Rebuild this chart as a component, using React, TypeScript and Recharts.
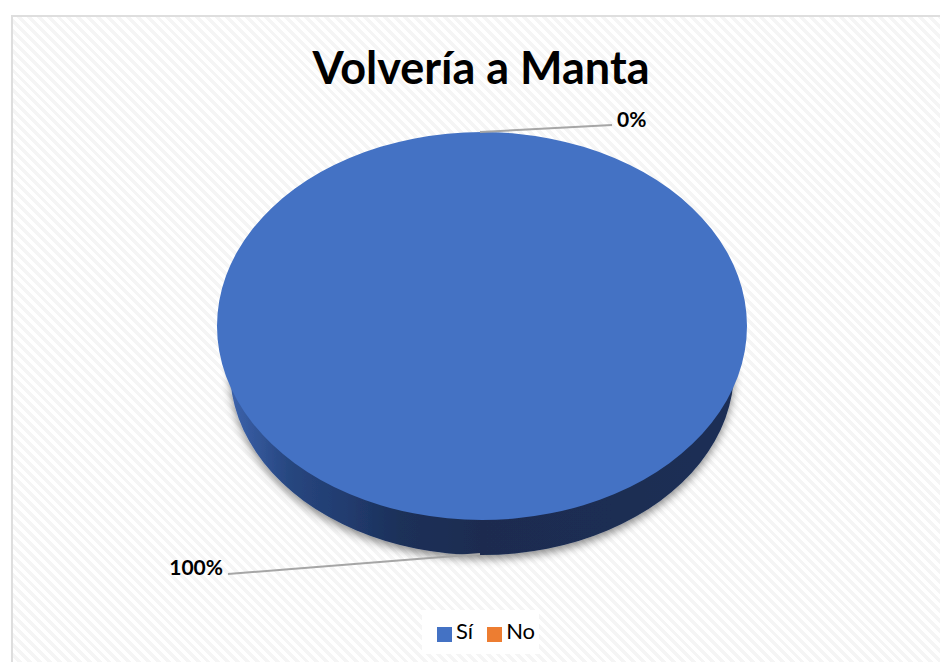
import React from 'react';
import { PieChart, Pie, Sector, Cell, Legend } from 'recharts';

const categories: string[] = ['Sí', 'No'];
const values: number[] = [100, 0];
const topColors: string[] = ['#4472C4', '#ED7D31'];

const tableData = categories.map((name, i) => ({ name, value: values[i] }));

const CX = 482;
const CY = 326;
const RADIUS = 265;
const SQUASH = 0.732;
const DEPTH = 35;
// lower rim is a little smaller than the top face (perspective)
const SIDE_RADIUS = 252;
const SIDE_CY = 370.5;

// the pie is tilted, so every sector is squashed around the centre
const TiltedSector = (props: any) => {
  const { cx, cy } = props;
  return (
    <g transform={`translate(${cx} ${cy}) scale(1 ${SQUASH}) translate(${-cx} ${-cy})`}>
      <Sector {...props} stroke="none" />
    </g>
  );
};

const renderLabel = (props: any) => {
  const { cx, cy, outerRadius, midAngle, percent } = props;
  const rad = (midAngle * Math.PI) / 180;
  const bottom = Math.sin(rad) < 0;
  const ax = cx + outerRadius * Math.cos(rad) - 2;
  const ay = cy - outerRadius * SQUASH * Math.sin(rad) + (bottom ? DEPTH - 1 : 0);
  const ex = bottom ? ax - 252 : ax + 132;
  const ey = bottom ? ay + 20 : ay - 7;
  return (
    <g>
      <line x1={ax} y1={ay} x2={ex} y2={ey} stroke="#a6a6a6" strokeWidth={2} />
      <text
        x={bottom ? ex - 5 : ex + 5}
        y={ey - 7}
        textAnchor={bottom ? 'end' : 'start'}
        dominantBaseline="central"
        fontFamily="Lato"
        fontWeight={700}
        fontSize={21}
        fill="#000"
      >
        {`${Math.round(percent * 100)}%`}
      </text>
    </g>
  );
};

const App: React.FC = () => {
  return (
    <div style={{ position: 'absolute', left: 0, top: 0, width: 940, height: 662, background: '#fff', overflow: 'hidden' }}>
      {/* Hatched chart area, it runs off the picture on the right and bottom */}
      <div
        style={{
          position: 'absolute',
          left: 11,
          top: 15,
          right: 0,
          bottom: 0,
          borderTop: '2px solid #dedede',
          borderLeft: '2px solid #dedede',
          background: 'repeating-linear-gradient(45deg, #ffffff 0px, #ffffff 3.5px, #f5f5f5 3.5px, #f5f5f5 7px)',
        }}
      />
      <div style={{ position: 'absolute', left: 0, top: 0 }}>
        <PieChart width={940} height={662} margin={{ top: 0, right: 0, bottom: 0, left: 0 }}>
          <defs>
            <linearGradient id="sideFill" gradientUnits="userSpaceOnUse" x1={217} y1={0} x2={747} y2={0}>
              <stop offset="3.4%" stopColor="#3a60a8" />
              <stop offset="13.8%" stopColor="#27467f" />
              <stop offset="25%" stopColor="#213b6e" />
              <stop offset="34.5%" stopColor="#1c3059" />
              <stop offset="50%" stopColor="#1a2c50" />
              <stop offset="100%" stopColor="#1a2e55" />
            </linearGradient>
            <filter id="sideShadow" x="-10%" y="-10%" width="120%" height="125%">
              <feDropShadow dx={0} dy={4} stdDeviation={4} floodColor="#000" floodOpacity={0.45} />
            </filter>
          </defs>
          <text x={481} y={67} textAnchor="middle" dominantBaseline="central" fontFamily="Lato" fontWeight={700} fontSize={45} fill="#000">
            Volvería a Manta
          </text>
          {/* side wall first, top face goes over it */}
          <Pie
            data={tableData}
            dataKey="value"
            nameKey="name"
            cx={CX}
            cy={SIDE_CY}
            innerRadius={0}
            outerRadius={SIDE_RADIUS}
            startAngle={90}
            endAngle={-270}
            stroke="none"
            legendType="none"
            label={false}
            labelLine={false}
            isAnimationActive={false}
            shape={(p: any) => (
              <g filter="url(#sideShadow)">
                <TiltedSector {...p} fill="url(#sideFill)" />
              </g>
            )}
          />
          <Pie
            data={tableData}
            dataKey="value"
            nameKey="name"
            cx={CX}
            cy={CY}
            innerRadius={0}
            outerRadius={RADIUS}
            startAngle={90}
            endAngle={-270}
            stroke="none"
            label={renderLabel}
            labelLine={false}
            isAnimationActive={false}
            shape={(p: any) => <TiltedSector {...p} />}
          >
            {tableData.map((entry, i) => (
              <Cell key={entry.name} fill={topColors[i]} />
            ))}
          </Pie>
          <Legend
            layout="horizontal"
            iconType="square"
            iconSize={15}
            itemSorter={null}
            formatter={(v: string) => (
              <span style={{ color: '#000', fontFamily: 'Lato', fontSize: 22, marginRight: 4 }}>{v}</span>
            )}
            wrapperStyle={{
              position: 'absolute',
              left: 422,
              top: 610,
              width: 117,
              height: 44,
              boxSizing: 'border-box',
              paddingLeft: 15,
              paddingBottom: 4,
              whiteSpace: 'nowrap',
              background: '#ffffff',
              display: 'flex',
              alignItems: 'center',
              justifyContent: 'flex-start',
            }}
          />
        </PieChart>
      </div>
    </div>
  );
};

export default App;
